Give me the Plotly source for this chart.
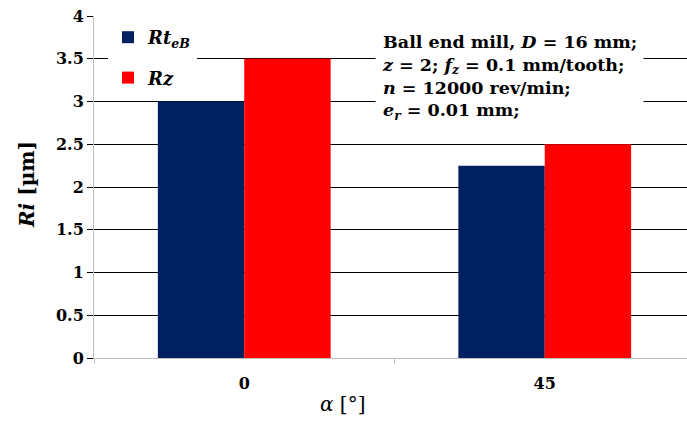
import plotly.graph_objects as go

categories = ["0", "45"]
rt_eb = [3.0, 2.25]
rz = [3.5, 2.5]
y_ticks = [0, 0.5, 1, 1.5, 2, 2.5, 3, 3.5, 4]
y_tick_labels = ["0", "0.5", "1", "1.5", "2", "2.5", "3", "3.5", "4"]

FONT = "DejaVu Serif"
W, H = 687, 423
L, R, T, B = 94, 0, 16, 65
PW = W - L - R
PH = H - T - B

def px_x(px):
    return (px - L) / PW

def px_y(py):
    return (H - B - py) / PH

fig = go.Figure()
fig.add_trace(go.Bar(x=categories, y=rt_eb, name="<b><i>Rt<sub>eB</sub></i></b>",
                     marker=dict(color="#002060", line=dict(width=0)), legendgroup="a"))
fig.add_trace(go.Bar(x=categories, y=rz, name="<b><i>Rz</i></b>",
                     marker=dict(color="#FF0000", line=dict(width=0)), legendgroup="b"))

fig.update_layout(
    width=W, height=H,
    margin=dict(l=L, r=R, t=T, b=B, autoexpand=False),
    paper_bgcolor="white", plot_bgcolor="white",
    barmode="group", bargap=0.425, bargroupgap=0,
    font=dict(family=FONT, color="black"),
    showlegend=True,
    legend=dict(x=px_x(108), y=px_y(19), xanchor="left", yanchor="top",
                bgcolor="white", font=dict(family=FONT, size=18, color="black"),
                tracegroupgap=14, traceorder="grouped", itemwidth=30),
    xaxis=dict(range=[-0.5, 1.5 - 8 / 301], showline=True, linecolor="#BFBFBF", linewidth=1,
               tickson="boundaries", ticks="outside", ticklen=5, tickcolor="#BFBFBF",
               showgrid=False, tickfont=dict(family=FONT, size=16, color="black"),
               ticklabelstandoff=11),
    yaxis=dict(range=[0, 4], tickvals=y_ticks, ticktext=["<b>%s</b>" % t for t in y_tick_labels],
               showline=True, linecolor="#BFBFBF", linewidth=1,
               showgrid=True, gridcolor="black", gridwidth=1, zeroline=False,
               ticks="outside", ticklen=6, tickcolor="black", ticklabeloverflow="allow",
               tickfont=dict(family=FONT, size=16, color="black")),
)
fig.update_xaxes(ticktext=["<b>%s</b>" % c for c in categories], tickvals=categories)

fig.add_annotation(xref="paper", yref="paper", x=px_x(27), y=px_y(185),
                   xanchor="center", yanchor="middle",
                   text="<b><i>Ri</i> [µm]</b>", textangle=-90, showarrow=False,
                   font=dict(family=FONT, size=20, color="black"))
fig.add_annotation(xref="paper", yref="paper", x=px_x(342), y=px_y(404),
                   xanchor="center", yanchor="middle",
                   text="<i>α</i> [°]", showarrow=False,
                   font=dict(family=FONT, size=20, color="black"))
fig.add_annotation(xref="paper", yref="paper", x=px_x(375), y=px_y(25),
                   xanchor="left", yanchor="top", align="left", showarrow=False,
                   bgcolor="white", borderpad=6,
                   text=("<b>Ball end mill, <i>D</i> = 16 mm;<br>"
                         "<i>z</i> = 2; <i>f<sub>z</sub></i> = 0.1 mm/tooth;<br>"
                         "<i>n</i> = 12000 rev/min;<br>"
                         "<i>e<sub>r</sub></i> = 0.01 mm;</b>"),
                   font=dict(family=FONT, size=17.5, color="black"))

fig.write_html("out.html", config={"displayModeBar": False},
               post_script="document.body.style.margin='0px';")
